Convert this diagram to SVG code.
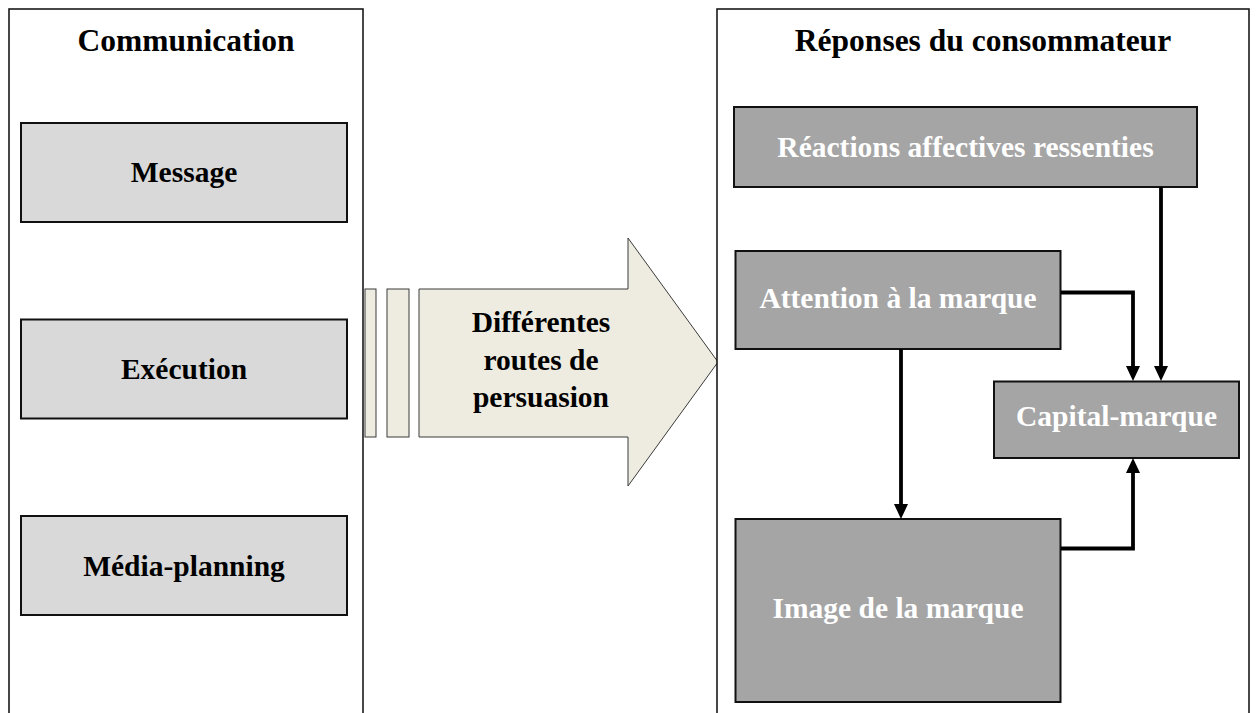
<svg xmlns="http://www.w3.org/2000/svg" width="1259" height="713" viewBox="0 0 1259 713">
  <style>
    .panel { fill: #ffffff; stroke: #1a1a1a; stroke-width: 1.6; }
    .light { fill: #d9d9d9; stroke: #111111; stroke-width: 2; }
    .dark { fill: #a5a5a5; stroke: #111111; stroke-width: 2; }
    .arrowshape { fill: #eeece1; stroke: #3a3a3a; stroke-width: 1; }
    text { font-family: "Liberation Serif", "Times New Roman", serif; font-weight: bold; text-anchor: middle; }
    .title { font-size: 31.5px; fill: #000000; }
    .lbl { font-size: 29.5px; fill: #000000; }
    .wlbl { font-size: 29.5px; fill: #ffffff; }
    .conn { fill: none; stroke: #000000; stroke-width: 3.8; stroke-linejoin: miter; }
  </style>
  <defs>
    <marker id="ah" viewBox="0 0 15 14" refX="11" refY="7" markerWidth="15" markerHeight="14" markerUnits="userSpaceOnUse" orient="auto">
      <path d="M0,0 L15,7 L0,14 Z" fill="#000000"/>
    </marker>
  </defs>
  <rect width="1259" height="713" fill="#ffffff"/>

  <g id="panel-communication">
    <rect class="panel" x="9" y="9" width="354" height="720"/>
    <text class="title" x="186" y="51">Communication</text>
  </g>
  <g id="node-message">
    <rect class="light" x="21" y="123" width="326" height="99"/>
    <text class="lbl" x="184" y="182">Message</text>
  </g>
  <g id="node-execution">
    <rect class="light" x="21" y="319.5" width="326" height="99"/>
    <text class="lbl" x="184" y="378.5">Exécution</text>
  </g>
  <g id="node-media">
    <rect class="light" x="21" y="516" width="326" height="99"/>
    <text class="lbl" x="184" y="576">Média-planning</text>
  </g>

  <g id="node-routes">
    <rect class="arrowshape" x="365" y="289" width="11" height="148"/>
    <rect class="arrowshape" x="387" y="289" width="22" height="148"/>
    <path class="arrowshape" d="M419,289 H628 V238 L718,362 L628,486 V437 H419 Z"/>
    <text class="lbl" x="541" y="331.5">Différentes</text>
    <text class="lbl" x="541" y="369.5">routes de</text>
    <text class="lbl" x="541" y="407">persuasion</text>
  </g>

  <g id="panel-reponses">
    <rect class="panel" x="717" y="9" width="532" height="720"/>
    <text class="title" x="983" y="51">Réponses du consommateur</text>
  </g>
  <g id="node-reactions">
    <rect class="dark" x="734" y="107" width="463" height="80"/>
    <text class="wlbl" x="965.5" y="157">Réactions affectives ressenties</text>
  </g>
  <g id="node-attention">
    <rect class="dark" x="735.5" y="251" width="325" height="98"/>
    <text class="wlbl" x="898" y="308">Attention à la marque</text>
  </g>
  <g id="node-capital">
    <rect class="dark" x="994" y="381.5" width="245" height="76.5"/>
    <text class="wlbl" x="1116.5" y="426">Capital-marque</text>
  </g>
  <g id="node-image">
    <rect class="dark" x="735.5" y="519" width="325" height="183"/>
    <text class="wlbl" x="898" y="618">Image de la marque</text>
  </g>

  <g id="connectors">
    <path class="conn" d="M1161,187 V377" marker-end="url(#ah)"/>
    <path class="conn" d="M1061,292.5 H1133 V377" marker-end="url(#ah)"/>
    <path class="conn" d="M901,349 V515" marker-end="url(#ah)"/>
    <path class="conn" d="M1061,548.5 H1133 V462" marker-end="url(#ah)"/>
  </g>
</svg>
